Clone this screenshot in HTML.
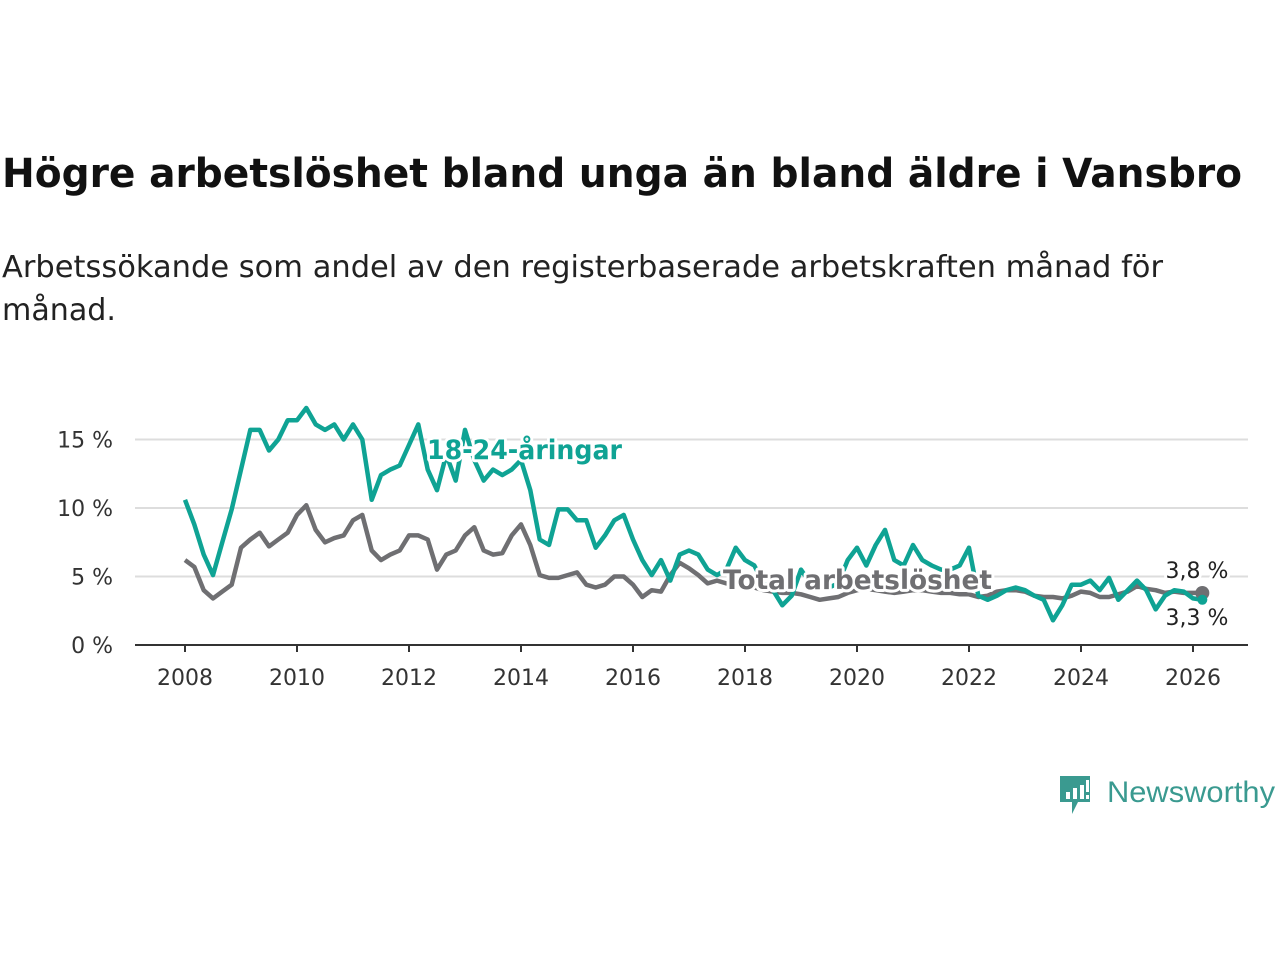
<!DOCTYPE html>
<html><head><meta charset="utf-8"><style>
body{margin:0;width:1280px;height:960px;background:#fff;overflow:hidden;font-family:"Liberation Sans","DejaVu Sans",sans-serif;}
svg text{font-family:"DejaVu Sans","Liberation Sans",sans-serif;}
</style></head><body>
<svg width="1280" height="960">
<text x="2" y="187" font-size="40" font-weight="bold" fill="#111" textLength="1240" lengthAdjust="spacingAndGlyphs">Högre arbetslöshet bland unga än bland äldre i Vansbro</text>
<text x="2" y="277" font-size="30" fill="#222" textLength="1161" lengthAdjust="spacingAndGlyphs">Arbetssökande som andel av den registerbaserade arbetskraften månad för</text>
<text x="2" y="320" font-size="30" fill="#222" textLength="114" lengthAdjust="spacingAndGlyphs">månad.</text>
<g id="grid"></g><g id="axes"></g><g id="lines"></g><g id="labels"></g>
<g>
<path d="M1060 776 h30 v26 h-12 l-6 12 v-12 h-12z" fill="#3a9a90"/>
<rect x="1066" y="792" width="4" height="7" fill="#fff"/><rect x="1073" y="788" width="4" height="11" fill="#fff"/><rect x="1080" y="785" width="4" height="14" fill="#fff"/><rect x="1086" y="780" width="3" height="12" fill="#fff"/><rect x="1086" y="795" width="3" height="4" fill="#fff"/>
<text x="1107" y="802" font-size="30" fill="#3a9a90" textLength="168" lengthAdjust="spacingAndGlyphs" style="font-family:'Liberation Sans',sans-serif">Newsworthy</text>
</g>
</svg>
<script>
const years=[2008,2010,2012,2014,2016,2018,2020,2022,2024,2026];
const yTicks=[0,5,10,15];
const youth=[10.6,8.8,6.6,5.1,7.5,9.9, 12.8,15.7,15.7,14.2,15,16.4, 16.4,17.3,16.1,15.7,16.1,15, 16.1,15,10.6,12.4,12.8,13.1, 14.6,16.1,12.8,11.3,13.9,12.0, 15.7,13.5,12.0,12.8,12.4,12.8, 13.5,11.3,7.7,7.3,9.9,9.9, 9.1,9.1,7.1,8.0,9.1,9.5, 7.7,6.2,5.1,6.2,4.7,6.6, 6.9,6.6,5.5,5.1,5.5,7.1, 6.2,5.8,4.5,4.0,2.9,3.6, 5.5,4.5,4.5,4.2,4.5,6.2, 7.1,5.8,7.3,8.4,6.2,5.8, 7.3,6.2,5.8,5.5,5.5,5.8, 7.1,3.6,3.3,3.6,4.0,4.2, 4.0,3.6,3.3,1.8,2.9,4.4, 4.4,4.7,4.0,4.9,3.3,4.0, 4.7,4.0,2.6,3.6,4.0,3.9, 3.4,3.3];
const total=[6.2,5.7,4.0,3.4,3.9,4.4, 7.1,7.7,8.2,7.2,7.7,8.2, 9.5,10.2,8.4,7.5,7.8,8.0, 9.1,9.5,6.9,6.2,6.6,6.9, 8.0,8.0,7.7,5.5,6.6,6.9, 8.0,8.6,6.9,6.6,6.7,8.0, 8.8,7.3,5.1,4.9,4.9,5.1, 5.3,4.4,4.2,4.4,5.0,5.0, 4.4,3.5,4.0,3.9,5.1,6.0, 5.6,5.1,4.5,4.7,4.5,4.4, 4.3,4.2,4.0,3.9,3.8,3.8, 3.7,3.5,3.3,3.4,3.5,3.8, 4.0,4.1,4.0,3.9,3.8,3.9, 4.0,4.0,3.9,3.8,3.8,3.7, 3.7,3.5,3.6,3.9,4.0,4.0, 3.9,3.6,3.5,3.5,3.4,3.6, 3.9,3.8,3.5,3.5,3.7,3.9, 4.3,4.1,4.0,3.8,3.9,3.8, 3.8,3.8];
const NS='http://www.w3.org/2000/svg';
const X=t=>185+(t-2008)*56;
const Y=v=>645-v*13.7;
const tOf=i=>2008+i/6;
function mk(tag,attrs,parent,text){const e=document.createElementNS(NS,tag);for(const k in attrs)e.setAttribute(k,attrs[k]);if(text!==undefined)e.textContent=text;document.getElementById(parent).appendChild(e);return e;}
yTicks.forEach(v=>{
 if(v>0){const l=mk('line',{x1:135,x2:1248,y1:Y(v),y2:Y(v),stroke:'#ddd','stroke-width':2},'grid');
 
 }
 const t=mk('text',{x:113,y:Y(v)+8,'font-size':22,fill:'#333','text-anchor':'end'},'axes',v+' %');
 
 
});
const ax=mk('line',{x1:135,x2:1248,y1:645,y2:645,stroke:'#333','stroke-width':2},'axes');


years.forEach(y=>{
 const tk=mk('line',{x1:X(y),x2:X(y),y1:645,y2:652,stroke:'#333','stroke-width':2},'axes');
 
 
 const t=mk('text',{x:X(y),y:685,'font-size':22,fill:'#333','text-anchor':'middle'},'axes',String(y));
 
 
});
function line(arr,col,name){
 const d=arr.map((v,i)=>(i?'L':'M')+X(tOf(i)).toFixed(1)+' '+Y(v).toFixed(1)).join(' ');
 const p=mk('path',{d:d,fill:'none',stroke:col,'stroke-width':4.5,'stroke-linejoin':'round'},'lines');
 
 
}
line(total,'#6f6f72','total-line');
line(youth,'#0fa394','youth-line');
const lt=total.length-1, ly=youth.length-1;
const d1=mk('circle',{cx:X(tOf(lt)),cy:Y(total[lt]),r:7,fill:'#6f6f72'},'lines');


const d2=mk('circle',{cx:X(tOf(ly)),cy:Y(youth[ly]),r:5,fill:'#0fa394'},'lines');


function lab(x,y,txt,col,size,w,name,anchor,len){
 const a={x:x,y:y,'font-size':size,'font-weight':w,fill:col,stroke:'#fff','stroke-width':6,'paint-order':'stroke','stroke-linejoin':'round','text-anchor':anchor||'start'};
 if(len){a.textLength=len;a.lengthAdjust='spacingAndGlyphs';}
 const t=mk('text',a,'labels',txt);
 
 
}
lab(427,459,'18-24-åringar','#0fa394',27,'bold','youth-label','start',195);
lab(723,589,'Total arbetslöshet','#6f6f72',27,'bold','total-label','start',269);
lab(1197,578,'3,8 %','#222',22,'normal','total-end-value','middle');
lab(1197,625,'3,3 %','#222',22,'normal','youth-end-value','middle');
</script>
</body></html>
